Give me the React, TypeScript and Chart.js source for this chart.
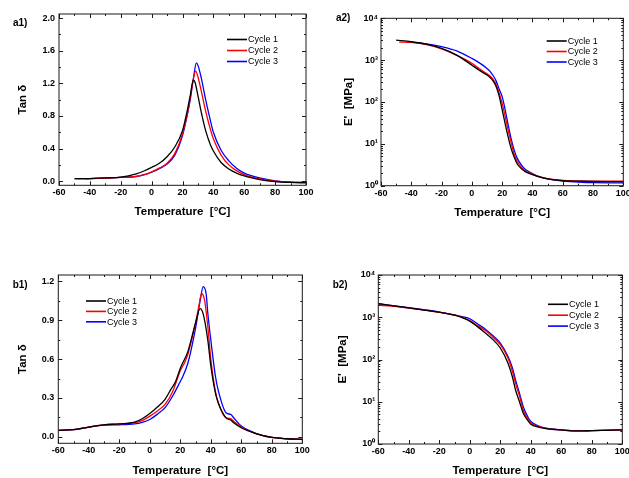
import React, { useEffect, useRef } from 'react';
import { Chart, registerables } from 'chart.js';

Chart.register(...registerables);

// ---------------- data ----------------
// a1) Tan delta, first sample
const a1T1 = [-50, -40, -30, -20, -10, -5, 0, 5, 10, 15, 20, 23, 25, 27, 28, 30, 32, 35, 38, 40, 45, 50, 55, 60, 65, 70, 80, 90, 100];
const a1Y1 = [0.03, 0.033, 0.04, 0.05, 0.09, 0.125, 0.17, 0.22, 0.30, 0.42, 0.62, 0.86, 1.05, 1.24, 1.22, 1.05, 0.86, 0.62, 0.45, 0.37, 0.23, 0.15, 0.10, 0.065, 0.04, 0.02, -0.005, -0.015, -0.02];
const a1T2 = [-48, -40, -30, -20, -10, -5, 0, 5, 10, 15, 20, 23, 25, 27, 28.5, 30, 32, 35, 38, 40, 45, 50, 55, 60, 65, 70, 80, 90, 100];
const a1Y2 = [0.03, 0.032, 0.038, 0.048, 0.06, 0.08, 0.115, 0.16, 0.22, 0.34, 0.58, 0.82, 1.02, 1.25, 1.35, 1.28, 1.12, 0.86, 0.64, 0.52, 0.32, 0.20, 0.13, 0.08, 0.05, 0.03, 0.0, -0.012, -0.015];
const a1T3 = [-43, -40, -30, -20, -10, -5, 0, 5, 10, 15, 20, 23, 25, 27, 29, 30, 32, 35, 38, 40, 45, 50, 55, 60, 65, 70, 80, 90, 100];
const a1Y3 = [0.03, 0.031, 0.037, 0.046, 0.058, 0.078, 0.11, 0.155, 0.21, 0.32, 0.56, 0.80, 1.0, 1.25, 1.45, 1.42, 1.28, 1.0, 0.75, 0.60, 0.38, 0.25, 0.16, 0.10, 0.065, 0.04, 0.005, -0.01, -0.015];

// a2) E' [MPa], first sample
const a2T1 = [-50, -40, -30, -20, -10, 0, 5, 10, 12, 14, 16, 18, 20, 22, 24, 26, 28, 30, 33, 35, 40, 45, 50, 60, 70, 80, 90, 100];
const a2Y1 = [3000, 2750, 2400, 1900, 1320, 760, 570, 440, 385, 320, 235, 140, 66, 30, 14.5, 7.6, 4.8, 3.3, 2.5, 2.2, 1.85, 1.6, 1.45, 1.32, 1.28, 1.26, 1.25, 1.25];
const a2T2 = [-48, -40, -30, -20, -10, 0, 5, 10, 12, 14, 16, 18, 20, 22, 24, 26, 28, 30, 33, 35, 40, 45, 50, 60, 70, 80, 90, 100];
const a2Y2 = [2700, 2650, 2350, 1850, 1300, 840, 620, 470, 420, 350, 265, 165, 94, 45, 21, 10.5, 5.6, 3.8, 2.7, 2.3, 1.9, 1.62, 1.47, 1.33, 1.3, 1.28, 1.28, 1.28];
const a2T3 = [-43, -40, -30, -20, -10, 0, 5, 10, 12, 14, 16, 18, 20, 22, 24, 26, 28, 30, 33, 35, 40, 45, 50, 60, 70, 80, 90, 100];
const a2Y3 = [2650, 2650, 2450, 2100, 1660, 1100, 860, 635, 540, 430, 320, 205, 134, 65, 28, 13, 7, 4.5, 3.0, 2.5, 1.95, 1.62, 1.45, 1.28, 1.22, 1.18, 1.17, 1.17];

// b1) Tan delta, second sample
const b1T1 = [-60, -50, -40, -30, -20, -10, -5, 0, 5, 10, 14, 17, 20, 25, 30, 33, 35, 38, 40, 43, 45, 50, 53, 55, 60, 65, 70, 80, 90, 100];
const b1Y1 = [0.05, 0.055, 0.075, 0.093, 0.10, 0.113, 0.14, 0.18, 0.23, 0.29, 0.37, 0.43, 0.53, 0.66, 0.88, 0.99, 0.95, 0.75, 0.55, 0.34, 0.26, 0.147, 0.13, 0.108, 0.07, 0.045, 0.023, -0.005, -0.015, -0.02];
const b1T2 = [-60, -50, -40, -30, -20, -10, -5, 0, 5, 10, 15, 20, 23, 25, 30, 32, 34, 36, 38, 40, 43, 45, 50, 53, 55, 60, 65, 70, 80, 90, 100];
const b1Y2 = [0.05, 0.055, 0.075, 0.093, 0.10, 0.108, 0.125, 0.16, 0.20, 0.25, 0.35, 0.51, 0.578, 0.64, 0.88, 1.0, 1.107, 1.05, 0.857, 0.6, 0.353, 0.26, 0.147, 0.14, 0.12, 0.075, 0.045, 0.023, -0.005, -0.015, -0.02];
const b1T3 = [-60, -50, -40, -30, -20, -10, -5, 0, 5, 10, 15, 19, 21, 25, 30, 33, 35, 37, 38, 40, 43, 45, 50, 53, 55, 60, 65, 70, 80, 90, 100];
const b1Y3 = [0.05, 0.055, 0.075, 0.09, 0.093, 0.10, 0.112, 0.134, 0.175, 0.225, 0.315, 0.405, 0.45, 0.57, 0.84, 1.05, 1.16, 1.1, 0.96, 0.75, 0.47, 0.353, 0.186, 0.173, 0.147, 0.083, 0.05, 0.025, -0.005, -0.015, -0.02];

// b2) E' [MPa], second sample
const b2T = [-60, -40, -20, -10, -5, 0, 5, 10, 15, 20, 25, 28, 30, 33, 35, 38, 40, 45, 50, 60, 70, 80, 100];
const b2Y1 = [2090, 1670, 1320, 1120, 980, 810, 600, 430, 300, 187, 83, 38, 19, 9, 5.4, 3.6, 2.93, 2.5, 2.31, 2.15, 2.04, 2.07, 2.15];
const b2Y2 = [1950, 1650, 1310, 1120, 990, 830, 640, 490, 340, 225, 109, 52, 27.6, 12, 6.4, 4, 3.2, 2.6, 2.33, 2.15, 2.04, 2.07, 2.15];
const b2Y3 = [2090, 1680, 1330, 1140, 1030, 920, 700, 530, 370, 245, 119, 62, 33, 14, 7.7, 4.4, 3.4, 2.7, 2.36, 2.15, 2.04, 2.07, 2.15];

const seriesLabels = ['Cycle 1', 'Cycle 2', 'Cycle 3'];
const seriesColors = ['#000000', '#ff0000', '#0000ff'];
const superDigits = ['\u2070', '\u00b9', '\u00b2', '\u00b3', '\u2074'];

// ---------------- helpers ----------------
const FONT = "'Liberation Sans', Arial, Helvetica, sans-serif";
const TITLE_SIZE = 11.5;
const HALF_LH = (TITLE_SIZE * 1.2) / 2;

const pts = (xs: number[], ys: number[]) => xs.map((x, i) => ({ x, y: ys[i] }));
const isMult = (v: number, step: number) => Math.abs(v / step - Math.round(v / step)) < 1e-6;

function linTicks(min: number, max: number, step: number) {
  const out: any[] = [];
  const start = Math.ceil(min / step - 1e-9);
  const end = Math.floor(max / step + 1e-9);
  for (let k = start; k <= end; k++) out.push({ value: +(k * step).toFixed(6) });
  return out;
}

function logTicks(maxExp: number) {
  const out: any[] = [];
  for (let e = 0; e < maxExp; e++) {
    for (let m = 1; m <= 9; m++) out.push({ value: m * Math.pow(10, e) });
  }
  out.push({ value: Math.pow(10, maxExp) });
  return out;
}

const isPow10 = (v: number) => Math.abs(Math.log10(v) - Math.round(Math.log10(v))) < 1e-9;

const framePlugin = {
  id: 'frameTicks',
  afterDraw(chart: any, _args: any, opts: any) {
    const { ctx, chartArea } = chart;
    const { left, right, top, bottom } = chartArea;
    ctx.save();
    ctx.strokeStyle = '#1a1a1a';
    ctx.lineWidth = 1;
    ctx.strokeRect(left, top, right - left, bottom - top);
    const xs = chart.scales.x;
    const ys = chart.scales.y;
    ctx.beginPath();
    xs.ticks.forEach((t: any) => {
      const major = isMult(t.value, opts.xMajor);
      const len = major ? 4 : 2;
      const px = Math.round(xs.getPixelForValue(t.value)) + 0.5;
      ctx.moveTo(px, bottom);
      ctx.lineTo(px, bottom - len);
      ctx.moveTo(px, top);
      ctx.lineTo(px, top + len);
    });
    ys.ticks.forEach((t: any) => {
      const major = opts.log ? isPow10(t.value) : isMult(t.value, opts.yMajor);
      const len = major ? 4 : 2;
      const py = Math.round(ys.getPixelForValue(t.value)) + 0.5;
      ctx.moveTo(left, py);
      ctx.lineTo(left + len, py);
      ctx.moveTo(right, py);
      ctx.lineTo(right - len, py);
    });
    ctx.stroke();
    ctx.restore();
  },
};

const legendPlugin = {
  id: 'inLegend',
  afterDraw(chart: any, _args: any, opts: any) {
    const { ctx } = chart;
    ctx.save();
    ctx.font = `9px ${FONT}`;
    ctx.textBaseline = 'middle';
    ctx.textAlign = 'left';
    chart.data.datasets.forEach((ds: any, i: number) => {
      const y = opts.y + i * opts.gap;
      ctx.strokeStyle = ds.borderColor;
      ctx.lineWidth = 1.6;
      ctx.beginPath();
      ctx.moveTo(opts.x, y);
      ctx.lineTo(opts.x + 20, y);
      ctx.stroke();
      ctx.fillStyle = '#000';
      ctx.fillText(ds.label, opts.x + 21, y + 0.5);
    });
    ctx.restore();
  },
};

const labelPlugin = {
  id: 'panelLabel',
  afterDraw(chart: any, _args: any, opts: any) {
    const { ctx } = chart;
    ctx.save();
    ctx.font = `bold 10px ${FONT}`;
    ctx.fillStyle = '#000';
    ctx.textBaseline = 'middle';
    ctx.textAlign = 'left';
    ctx.fillText(opts.text, opts.x, opts.y);
    ctx.restore();
  },
};

type Panel = {
  box: [number, number, number, number];
  area: [number, number, number, number];
  yTitleX: number;
  xTitleY: number;
  yTitle: string;
  log: boolean;
  yMin: number;
  yMax: number;
  yStep: number;
  yMajor: number;
  legend: { x: number; y: number; gap: number };
  label: { text: string; x: number; y: number };
  series: { x: number[]; y: number[] }[];
};

const panels: Panel[] = [
  {
    box: [0, 0, 315, 239],
    area: [59, 14, 306, 185.3],
    yTitleX: 23.3,
    xTitleY: 212.3,
    yTitle: 'Tan \u03b4',
    log: false,
    yMin: -0.05,
    yMax: 2.05,
    yStep: 0.2,
    yMajor: 0.4,
    legend: { x: 227, y: 39.5, gap: 11 },
    label: { text: 'a1)', x: 13, y: 23.5 },
    series: [
      { x: a1T1, y: a1Y1 },
      { x: a1T2, y: a1Y2 },
      { x: a1T3, y: a1Y3 },
    ],
  },
  {
    box: [315, 0, 314, 239],
    area: [381, 18.3, 623.3, 185.7],
    yTitleX: 349.3,
    xTitleY: 213.3,
    yTitle: "E'  [MPa]",
    log: true,
    yMin: 1,
    yMax: 10000,
    yStep: 0,
    yMajor: 0,
    legend: { x: 231.7, y: 41, gap: 10.5 },
    label: { text: 'a2)', x: 21, y: 18.5 },
    series: [
      { x: a2T1, y: a2Y1 },
      { x: a2T2, y: a2Y2 },
      { x: a2T3, y: a2Y3 },
    ],
  },
  {
    box: [0, 239, 315, 239],
    area: [58.3, 275, 302.3, 443.3],
    yTitleX: 23.3,
    xTitleY: 471,
    yTitle: 'Tan \u03b4',
    log: false,
    yMin: -0.05,
    yMax: 1.25,
    yStep: 0.15,
    yMajor: 0.3,
    legend: { x: 86, y: 62, gap: 10.4 },
    label: { text: 'b1)', x: 12.7, y: 46 },
    series: [
      { x: b1T1, y: b1Y1 },
      { x: b1T2, y: b1Y2 },
      { x: b1T3, y: b1Y3 },
    ],
  },
  {
    box: [315, 239, 314, 239],
    area: [378.3, 275, 622.3, 444],
    yTitleX: 343.3,
    xTitleY: 471,
    yTitle: "E'  [MPa]",
    log: true,
    yMin: 1,
    yMax: 10000,
    yStep: 0,
    yMajor: 0,
    legend: { x: 233, y: 65.3, gap: 10.9 },
    label: { text: 'b2)', x: 17.7, y: 46.5 },
    series: [
      { x: b2T, y: b2Y1 },
      { x: b2T, y: b2Y2 },
      { x: b2T, y: b2Y3 },
    ],
  },
];

function PanelChart({ p }: { p: Panel }) {
  const ref = useRef<HTMLCanvasElement | null>(null);
  useEffect(() => {
    if (!ref.current) return;
    const [cx, cy, w, h] = p.box;
    const [L, T, R, B] = p.area;
    const titleLeft = p.yTitleX - HALF_LH;
    const padLeft = titleLeft - cx;
    const yWidth = L - titleLeft;
    const padTop = T - cy;
    const padRight = cx + w - R;
    const xHeight = p.xTitleY + HALF_LH - B;
    const padBottom = Math.max(0, cy + h - (p.xTitleY + HALF_LH));

    const tickFont = { family: FONT, size: 9, weight: 'bold' as const };
    const titleFont = { family: FONT, size: TITLE_SIZE, weight: 'bold' as const };

    const chart = new Chart(ref.current, {
      type: 'line',
      data: {
        datasets: p.series.map((s, i) => ({
          label: seriesLabels[i],
          data: pts(s.x, s.y),
          borderColor: seriesColors[i],
          backgroundColor: seriesColors[i],
          borderWidth: 1.3,
          pointRadius: 0,
          fill: false,
          cubicInterpolationMode: 'monotone' as const,
        })),
      },
      options: {
        animation: false,
        responsive: false,
        maintainAspectRatio: false,
        layout: { padding: { left: padLeft, top: padTop, right: padRight, bottom: padBottom } },
        plugins: {
          legend: { display: false },
          tooltip: { enabled: false },
          frameTicks: { xMajor: 20, yMajor: p.yMajor, log: p.log },
          inLegend: p.legend,
          panelLabel: p.label,
        } as any,
        scales: {
          x: {
            type: 'linear',
            min: -60,
            max: 100,
            grid: { display: false, drawTicks: false },
            border: { display: false },
            ticks: {
              font: tickFont,
              color: '#000',
              padding: 2,
              autoSkip: false,
              maxRotation: 0,
              callback: (v: any) => (isMult(Number(v), 20) ? String(Math.round(Number(v))) : ''),
            },
            title: {
              display: true,
              text: 'Temperature  [\u00b0C]',
              font: titleFont,
              color: '#000',
              padding: { top: 0, bottom: 0 },
            },
            afterBuildTicks: (s: any) => {
              s.ticks = linTicks(-60, 100, 10);
            },
            afterFit: (s: any) => {
              s.height = xHeight;
              s.paddingLeft = 0;
              s.paddingRight = 0;
            },
          },
          y: p.log
            ? {
                type: 'logarithmic',
                min: p.yMin,
                max: p.yMax,
                grid: { display: false, drawTicks: false },
                border: { display: false },
                ticks: {
                  font: tickFont,
                  color: '#000',
                  padding: 3,
                  autoSkip: false,
                  callback: (v: any) => {
                    const n = Number(v);
                    if (!isPow10(n)) return '';
                    return '10' + superDigits[Math.round(Math.log10(n))];
                  },
                },
                title: {
                  display: true,
                  text: p.yTitle,
                  font: titleFont,
                  color: '#000',
                  padding: { top: 0, bottom: 0 },
                },
                afterBuildTicks: (s: any) => {
                  s.ticks = logTicks(4);
                },
                afterFit: (s: any) => {
                  s.width = yWidth;
                  s.paddingTop = 0;
                  s.paddingBottom = 0;
                },
              }
            : {
                type: 'linear',
                min: p.yMin,
                max: p.yMax,
                grid: { display: false, drawTicks: false },
                border: { display: false },
                ticks: {
                  font: tickFont,
                  color: '#000',
                  padding: 4,
                  autoSkip: false,
                  callback: (v: any) => (isMult(Number(v), p.yMajor) ? Number(v).toFixed(1) : ''),
                },
                title: {
                  display: true,
                  text: p.yTitle,
                  font: titleFont,
                  color: '#000',
                  padding: { top: 0, bottom: 0 },
                },
                afterBuildTicks: (s: any) => {
                  s.ticks = linTicks(p.yMin, p.yMax, p.yStep);
                },
                afterFit: (s: any) => {
                  s.width = yWidth;
                  s.paddingTop = 0;
                  s.paddingBottom = 0;
                },
              },
        } as any,
      },
      plugins: [framePlugin, legendPlugin, labelPlugin],
    });
    return () => chart.destroy();
  }, [p]);

  const [cx, cy, w, h] = p.box;
  return (
    <canvas
      ref={ref}
      width={w}
      height={h}
      style={{ position: 'absolute', left: cx, top: cy, width: w, height: h }}
    />
  );
}

export default function App() {
  return (
    <div
      style={{
        position: 'fixed',
        left: 0,
        top: 0,
        width: 629,
        height: 478,
        background: '#ffffff',
        overflow: 'hidden',
      }}
    >
      {panels.map((p, i) => (
        <PanelChart key={i} p={p} />
      ))}
    </div>
  );
}
